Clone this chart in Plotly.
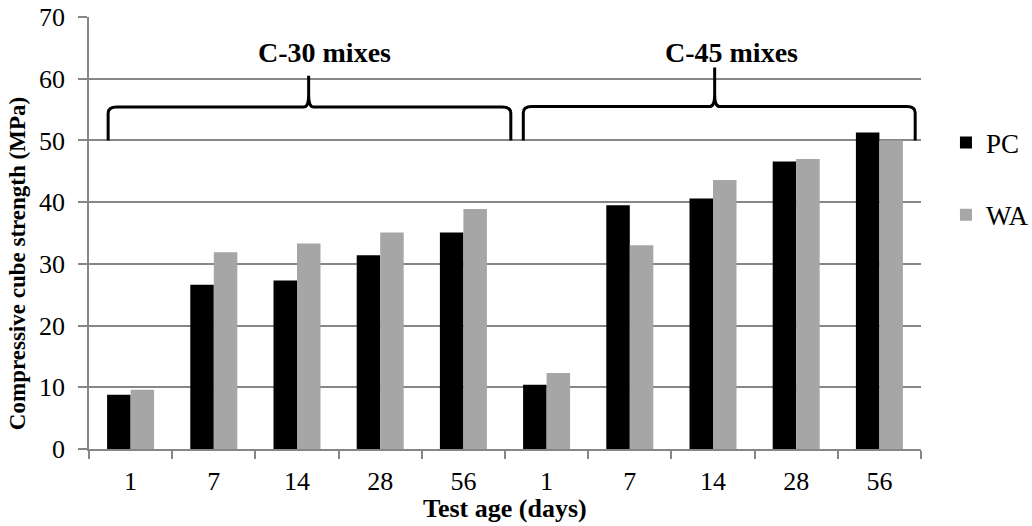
import plotly.graph_objects as go

# ---- data ----
ages = ["1", "7", "14", "28", "56", "1", "7", "14", "28", "56"]
mix_groups = ["C-30 mixes", "C-45 mixes"]
pc_values = [8.8, 26.6, 27.3, 31.4, 35.1, 10.4, 39.5, 40.6, 46.6, 51.3]
wa_values = [9.6, 31.9, 33.3, 35.1, 38.9, 12.3, 33.0, 43.6, 47.0, 50.0]
y_ticks = [0, 10, 20, 30, 40, 50, 60, 70]
x_title = "Test age (days)"
y_title = "Compressive cube strength (MPa)"

FONT = "Liberation Serif"
GRID = "#868686"
positions = list(range(len(ages)))

fig = go.Figure()
fig.add_trace(go.Bar(x=positions, y=pc_values, name="PC", marker=dict(color="#000000", line=dict(width=0)),
                     legendgroup="pc"))
fig.add_trace(go.Bar(x=positions, y=wa_values, name="WA", marker=dict(color="#a6a6a6", line=dict(width=0)),
                     legendgroup="wa"))


def brace(x0, x1, xt, ybase, yh, ytip, rx=0.1, ry=1.0, tx=0.06, ty=2.0):
    return (f"M {x0},{ybase} L {x0},{yh - ry} Q {x0},{yh} {x0 + rx},{yh} "
            f"L {xt - tx},{yh} Q {xt},{yh} {xt},{yh + ty} L {xt},{ytip} "
            f"L {xt},{yh + ty} Q {xt},{yh} {xt + tx},{yh} "
            f"L {x1 - rx},{yh} Q {x1},{yh} {x1},{yh - ry} L {x1},{ybase}")


shapes = [
    dict(type="path", xref="x", yref="y", path=brace(-0.27, 4.57, 2.14, 50, 55.4, 60.5),
         line=dict(color="black", width=3)),
    dict(type="path", xref="x", yref="y", path=brace(4.72, 9.43, 7.02, 50, 55.5, 61.8),
         line=dict(color="black", width=3)),
]

annotations = [
    dict(x=2.33, y=64.2, xref="x", yref="y", text=f"<b>{mix_groups[0]}</b>", showarrow=False,
         font=dict(family=FONT, size=28, color="black")),
    dict(x=7.22, y=64.2, xref="x", yref="y", text=f"<b>{mix_groups[1]}</b>", showarrow=False,
         font=dict(family=FONT, size=28, color="black")),
    dict(x=0.5, y=-0.1366, xref="paper", yref="paper", text=f"<b>{x_title}</b>", showarrow=False,
         xanchor="center", yanchor="middle", font=dict(family=FONT, size=26, color="black")),
    dict(x=-0.0865, y=0.428, xref="paper", yref="paper", text=f"<b>{y_title}</b>", showarrow=False,
         textangle=-90, xanchor="center", yanchor="middle", font=dict(family=FONT, size=23, color="black")),
]

fig.update_layout(
    width=1032, height=526,
    margin=dict(l=89, r=111, t=17, b=77, autoexpand=False),
    paper_bgcolor="white", plot_bgcolor="white",
    font=dict(family=FONT, size=26, color="black"),
    barmode="group", bargap=0.435, bargroupgap=0,
    shapes=shapes, annotations=annotations,
    legend=dict(x=1.03, y=0.765, xanchor="left", yanchor="top", traceorder="grouped",
                tracegroupgap=34, font=dict(family=FONT, size=27, color="black"),
                itemwidth=30, bgcolor="rgba(0,0,0,0)"),
)

fig.update_xaxes(
    automargin=False,
    range=[-0.5, 9.5], tickmode="array", tickvals=positions, ticktext=ages,
    ticks="", ticklabelstandoff=8,
    tickfont=dict(family=FONT, size=26, color="black"),
    showline=True, linecolor=GRID, linewidth=1.5, showgrid=False, zeroline=False,
    minor=dict(tickmode="array", tickvals=[i - 0.5 for i in range(len(ages) + 1)],
               ticks="outside", ticklen=8, tickwidth=1.5, tickcolor=GRID, showgrid=False),
)
fig.update_yaxes(
    automargin=False,
    range=[0, 70], tickmode="array", tickvals=y_ticks,
    ticks="outside", ticklen=9, tickwidth=1.5, tickcolor=GRID, ticklabelstandoff=8,
    tickfont=dict(family=FONT, size=26, color="black"),
    showline=True, linecolor=GRID, linewidth=1.5,
    showgrid=True, gridcolor=GRID, gridwidth=1.5, zeroline=False,
)

fig.write_html("out.html")
